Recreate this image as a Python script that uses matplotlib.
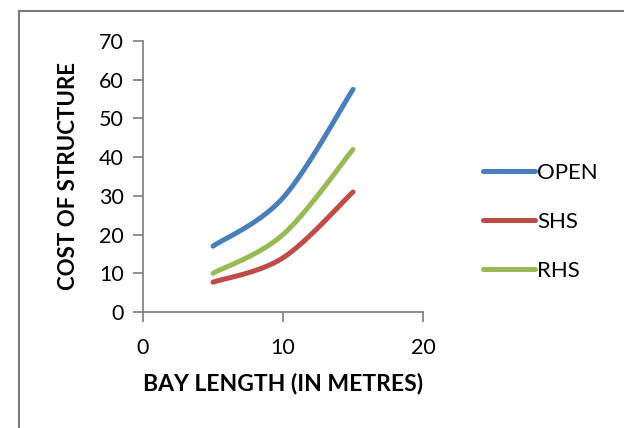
import numpy as np
import matplotlib.pyplot as plt
from matplotlib.lines import Line2D

# bay length vs cost of structure
bay_length = [5, 10, 15]
open_cost = [17, 29.5, 57.5]
shs_cost = [7.7, 14, 31]
rhs_cost = [10, 20, 42]

series = [("OPEN", open_cost, "#4A7EBB"),
          ("SHS", shs_cost, "#BE4B48"),
          ("RHS", rhs_cost, "#98B954")]

plt.rcParams['font.family'] = ['Lato', 'DejaVu Sans']


def smooth_line(x, y, n=40):
    # spreadsheet-style smoothed line (cubic bezier, 1/6 tangents)
    x = np.asarray(x, float)
    y = np.asarray(y, float)
    px = np.concatenate([[x[0]], x, [x[-1]]])
    py = np.concatenate([[y[0]], y, [y[-1]]])
    t = np.linspace(0, 1, n)
    xs, ys = [], []
    for i in range(1, len(px) - 2):
        p0 = np.array([px[i], py[i]])
        p3 = np.array([px[i + 1], py[i + 1]])
        c1 = p0 + (np.array([px[i + 1], py[i + 1]]) - np.array([px[i - 1], py[i - 1]])) / 6
        c2 = p3 - (np.array([px[i + 2], py[i + 2]]) - np.array([px[i], py[i]])) / 6
        b = ((1 - t) ** 3)[:, None] * p0 + (3 * (1 - t) ** 2 * t)[:, None] * c1 \
            + (3 * (1 - t) * t ** 2)[:, None] * c2 + (t ** 3)[:, None] * p3
        xs.extend(b[:, 0])
        ys.extend(b[:, 1])
    return xs, ys


fig = plt.figure(figsize=(6.24, 4.28), dpi=100)

# chart area border (top and left edges fall inside the image)
bx, by = 18.5 / 624, 1 - 11 / 428
fig.add_artist(Line2D([bx, 1.0], [by, by], transform=fig.transFigure,
                      color="#7a7a7a", linewidth=1.5))
fig.add_artist(Line2D([bx, bx], [0.0, by], transform=fig.transFigure,
                      color="#7a7a7a", linewidth=1.5))

ax = fig.add_axes([143 / 624, (428 - 312) / 428, 280 / 624, 271 / 428])

for name, vals, col in series:
    sx, sy = smooth_line(bay_length, vals)
    ax.plot(sx, sy, color=col, linewidth=3.6, solid_capstyle='round', label=name)

ax.set_xlim(0, 20)
ax.set_ylim(0, 70)
ax.set_xticks([0, 10, 20])
ax.set_yticks(range(0, 71, 10))

for s in ['top', 'right']:
    ax.spines[s].set_visible(False)
for s in ['left', 'bottom']:
    ax.spines[s].set_color("#868686")
    ax.spines[s].set_linewidth(1.3)

ax.tick_params(axis='both', colors="#868686", labelcolor="black",
               labelsize=15.5, width=1.3, length=7)
ax.tick_params(axis='x', pad=12)
ax.tick_params(axis='y', pad=7)

ax.set_xlabel("BAY LENGTH (IN METRES)", fontsize=16.5, fontweight='bold', labelpad=10)
ax.set_ylabel("COST OF STRUCTURE", fontsize=16, fontweight='bold', labelpad=14)

ax.legend(loc='center left', bbox_to_anchor=(463 / 624, 1 - 222 / 428),
          bbox_transform=fig.transFigure, frameon=False, fontsize=16,
          handlelength=2.35, handletextpad=0.1, labelspacing=1.3)

fig.savefig("out.png", dpi=100)
